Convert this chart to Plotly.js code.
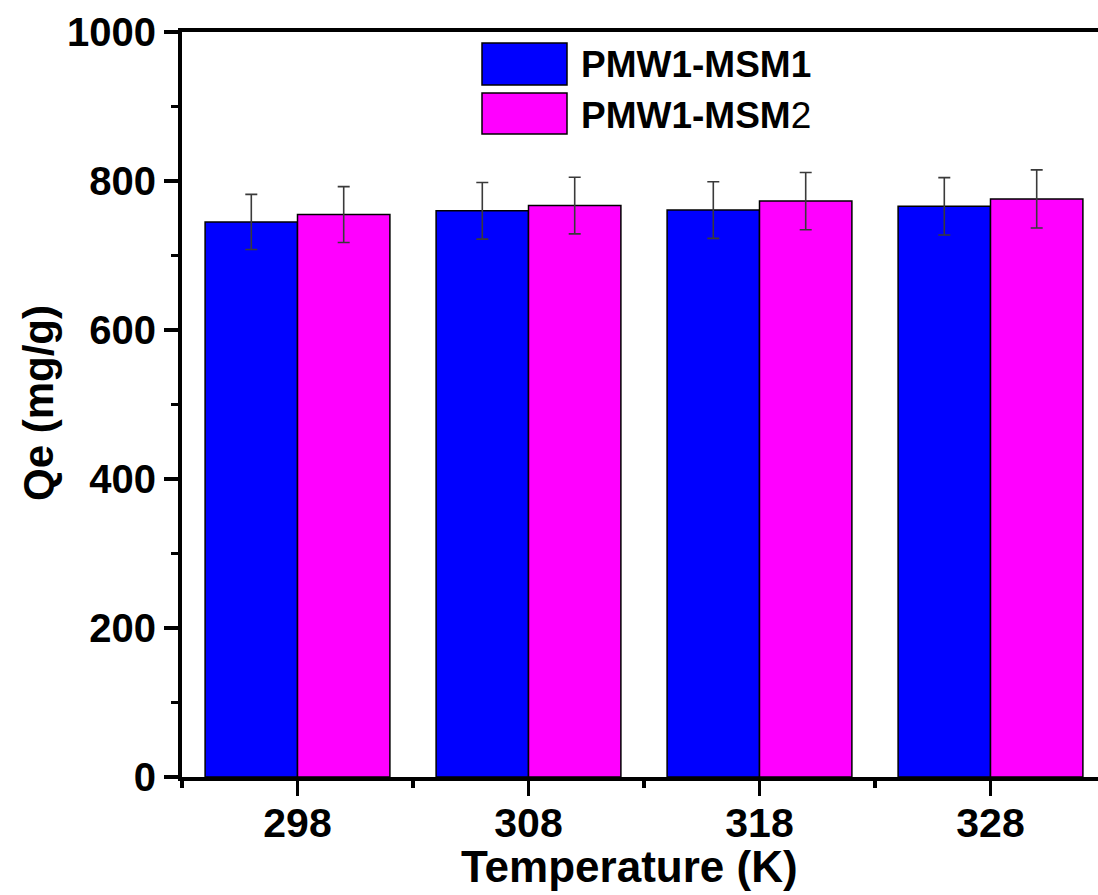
<!DOCTYPE html>
<html>
<head>
<meta charset="utf-8">
<script src="https://cdn.plot.ly/plotly-3.0.1.min.js"></script>
<style>
html,body{margin:0;padding:0;width:1098px;height:895px;overflow:hidden;background:#fff;}
#chart{width:1110px;height:895px;}
</style>
</head>
<body>
<div id="chart"></div>
<script>
const categories = ['298', '308', '318', '328'];
const seriesNames = ['PMW1-MSM1', 'PMW1-MSM2'];
const msm1Values = [745, 760, 761, 766];
const msm1Errors = [37, 38, 38, 38.5];
const msm2Values = [755, 767, 773, 776];
const msm2Errors = [37.5, 38, 38.5, 39];
const yTickVals = [0, 200, 400, 600, 800, 1000];

const FONT = 'Arial, "Liberation Sans", Helvetica, sans-serif';
const xIdx = categories.map((c, i) => i);

// plot area in pixels (for paper conversions)
const PL = 182, PR = 1106, PT = 32, PB = 777;
const px = v => (v - PL) / (PR - PL);
const py = v => (PB - v) / (PB - PT);

const errStyle = {type: 'data', visible: true, color: '#3a3a3a', thickness: 1.6, width: 6};

const traces = [
  {
    type: 'bar', name: seriesNames[0], x: xIdx, y: msm1Values,
    marker: {color: '#0000ff', line: {color: '#000', width: 1.5}},
    error_y: Object.assign({array: msm1Errors}, errStyle),
    showlegend: false
  },
  {
    type: 'bar', name: seriesNames[1], x: xIdx, y: msm2Values,
    marker: {color: '#ff00ff', line: {color: '#000', width: 1.5}},
    error_y: Object.assign({array: msm2Errors}, errStyle),
    showlegend: false
  }
];

const layout = {
  width: 1110, height: 895,
  margin: {l: PL, r: 1110 - PR, t: PT, b: 895 - PB},
  paper_bgcolor: '#fff', plot_bgcolor: '#fff',
  barmode: 'group', bargap: 0.2, bargroupgap: 0,
  font: {family: FONT, color: '#000'},
  xaxis: {
    type: 'linear', range: [-0.5, 3.5],
    tickvals: xIdx, ticktext: categories.map(c => '<b>' + c + '</b>'),
    ticks: 'outside', ticklen: 15, tickwidth: 3.5, tickcolor: '#000',
    ticklabelstandoff: -8,
    minor: {tickvals: [-0.5, 0.5, 1.5, 2.5, 3.5], ticks: 'outside', ticklen: 7, tickwidth: 3.5, tickcolor: '#000'},
    showline: true, linewidth: 4, linecolor: '#000', mirror: true,
    showgrid: false, zeroline: false,
    tickfont: {family: FONT, size: 41, color: '#000'}
  },
  yaxis: {
    range: [0, 1000], tickvals: yTickVals, ticktext: yTickVals.map(v => '<b>' + v + '</b>'),
    ticks: 'outside', ticklen: 14, tickwidth: 3.5, tickcolor: '#000',
    minor: {dtick: 100, tick0: 0, ticks: 'outside', ticklen: 7, tickwidth: 3.5, tickcolor: '#000'},
    showline: true, linewidth: 4, linecolor: '#000', mirror: true,
    showgrid: false, zeroline: false,
    tickfont: {family: FONT, size: 40, color: '#000'}
  },
  shapes: [
    {type: 'rect', xref: 'paper', yref: 'paper', x0: px(482), x1: px(567), y0: py(85), y1: py(43),
     fillcolor: '#0000ff', line: {color: '#000', width: 1.5}},
    {type: 'rect', xref: 'paper', yref: 'paper', x0: px(482), x1: px(567), y0: py(134), y1: py(93),
     fillcolor: '#ff00ff', line: {color: '#000', width: 1.5}}
  ],
  annotations: [
    {xref: 'paper', yref: 'paper', x: px(579), y: py(65), xanchor: 'left', yanchor: 'middle',
     text: '<b>' + seriesNames[0] + '</b>', showarrow: false, font: {family: FONT, size: 37, color: '#000'}},
    {xref: 'paper', yref: 'paper', x: px(579), y: py(116), xanchor: 'left', yanchor: 'middle',
     text: '<b>' + seriesNames[1].slice(0, -1) + '</b>' + seriesNames[1].slice(-1), showarrow: false,
     font: {family: FONT, size: 37, color: '#000'}},
    {xref: 'paper', yref: 'paper', x: px(629), y: py(866), xanchor: 'center', yanchor: 'middle',
     text: '<b>Temperature (K)</b>', showarrow: false, font: {family: FONT, size: 44, color: '#000'}},
    {xref: 'paper', yref: 'paper', x: px(38), y: py(403), xanchor: 'center', yanchor: 'middle', textangle: -90,
     text: '<b>Qe (mg/g)</b>', showarrow: false, font: {family: FONT, size: 42, color: '#000'}}
  ]
};

Plotly.newPlot('chart', traces, layout, {displayModeBar: false, staticPlot: true});
</script>
</body>
</html>
